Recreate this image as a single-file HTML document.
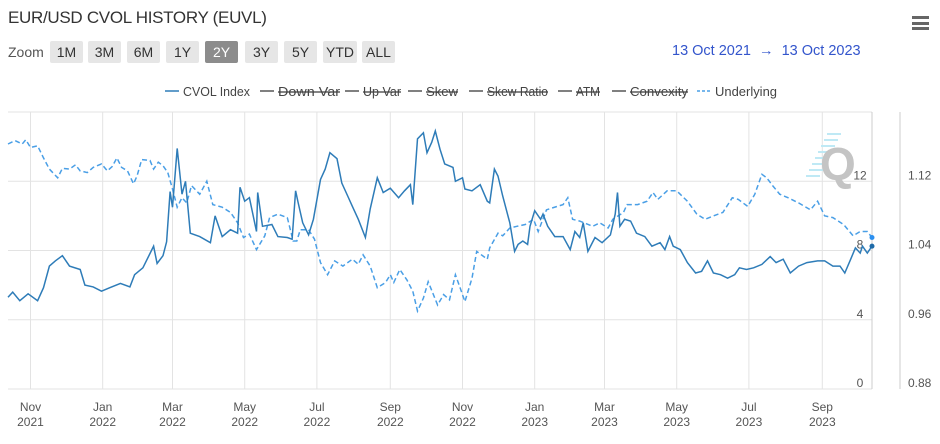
<!DOCTYPE html>
<html><head><meta charset="utf-8">
<style>
body{margin:0;background:#fff;font-family:"Liberation Sans",sans-serif;}
#wrap{position:relative;width:940px;height:444px;overflow:hidden;}
.title{position:absolute;left:8px;top:8px;font-size:17px;color:#333;letter-spacing:-0.3px;}
.zoomlbl{position:absolute;left:8px;top:44px;font-size:14px;color:#555;}
.btn{position:absolute;top:41px;height:22px;width:33px;background:#e6e6e6;color:#333;font-size:14px;text-align:center;line-height:22px;border-radius:2px;}
.btn.sel{background:#8c8c8c;color:#fff;}
.range{position:absolute;left:672px;top:43px;font-size:14.5px;color:#3355cc;}
.menu{position:absolute;left:912px;top:16px;width:17px;}
.menu div{height:3px;background:#666;margin-bottom:2.5px;}
</style></head><body>
<div id="wrap">
<div class="title">EUR/USD CVOL HISTORY (EUVL)</div>
<div class="menu"><div></div><div></div><div></div></div>
<div class="zoomlbl">Zoom</div>
<div class="btn" style="left:50px">1M</div>
<div class="btn" style="left:88px">3M</div>
<div class="btn" style="left:127px">6M</div>
<div class="btn" style="left:166px">1Y</div>
<div class="btn sel" style="left:205px">2Y</div>
<div class="btn" style="left:245px">3Y</div>
<div class="btn" style="left:284px">5Y</div>
<div class="btn" style="left:323px;width:34px">YTD</div>
<div class="btn" style="left:362px">ALL</div>
<div class="range">13 Oct 2021 &nbsp;→ &nbsp;13 Oct 2023</div>
<svg id="chart" width="940" height="444" style="position:absolute;left:0;top:0"></svg>
</div>
<script>
const cvolDays=[0,4,10,17,25,30,35,40,46,52,61,65,72,79,86,95,103,107,114,123,126,131,134,137,139,143,147,150,154,162,171,175,181,188,194,196,200,204,210,211,215,223,228,236,240,243,245,249,254,258,264,268,272,278,282,287,291,296,302,306,312,317,323,330,335,340,342,346,351,354,358,361,365,369,376,378,384,386,392,399,405,407,411,414,418,424,428,431,435,439,441,445,450,452,456,462,469,475,479,483,486,490,496,502,509,513,515,517,521,526,531,538,544,551,555,559,562,568,574,581,586,591,596,602,608,614,618,624,630,637,644,649,655,661,668,675,684,690,697,703,707,712,716,720,722,726,730];
const cvolVals=[5.3,5.6,5.1,5.5,5.1,5.85,7.1,7.4,7.7,7.1,6.9,6.0,5.9,5.65,5.85,6.1,5.9,6.6,7.0,8.25,7.25,7.7,8.5,11.4,10.5,13.9,11.25,12.0,9.0,8.8,8.45,10.0,8.8,9.2,9.0,11.65,10.85,11.05,9.1,11.35,9.4,9.5,8.8,8.75,8.65,11.45,10.8,9.6,8.9,9.8,12.1,12.7,13.65,13.3,11.9,11.15,10.55,9.8,8.75,10.4,12.2,11.35,11.6,11.05,11.45,11.8,10.65,14.45,14.8,13.65,14.25,14.9,13.85,13.0,12.8,12.0,12.2,11.55,11.45,11.8,10.85,10.75,12.7,12.3,11.15,9.6,7.95,8.35,8.55,8.35,9.4,10.3,9.8,10.1,9.4,8.8,8.8,8.05,9.1,8.75,9.6,7.95,8.75,8.45,8.9,10.1,11.35,9.4,9.8,9.7,9.0,8.8,8.25,8.45,8.05,8.8,8.25,8.05,7.3,6.7,6.8,7.4,6.7,6.6,6.4,6.6,7.0,6.9,7.0,7.2,7.65,7.3,7.5,6.7,7.1,7.3,7.4,7.4,7.1,7.1,6.7,7.5,8.15,7.85,8.25,7.85,8.25];
const undDays=[0,6,12,15,19,25,30,35,42,46,52,57,61,67,72,79,84,88,92,96,101,106,109,113,120,123,127,131,135,139,143,147,151,155,162,168,173,181,188,194,199,204,210,217,221,228,236,241,244,247,254,259,264,270,276,283,291,296,300,306,312,319,323,326,331,337,342,346,351,355,363,368,373,378,382,386,392,396,405,407,414,418,424,430,437,444,448,455,464,469,473,477,483,494,500,507,511,520,523,532,540,545,549,557,565,574,582,589,596,604,612,617,625,631,637,641,646,652,659,668,678,684,690,697,706,714,720,726,730];
const undVals=[1.163,1.167,1.163,1.168,1.159,1.161,1.147,1.134,1.124,1.135,1.134,1.139,1.132,1.130,1.136,1.140,1.132,1.137,1.147,1.136,1.132,1.117,1.126,1.145,1.144,1.134,1.142,1.138,1.130,1.111,1.090,1.101,1.095,1.115,1.105,1.120,1.093,1.090,1.084,1.072,1.055,1.059,1.041,1.057,1.078,1.082,1.078,1.051,1.051,1.064,1.064,1.053,1.026,1.012,1.028,1.022,1.030,1.024,1.035,1.022,0.997,1.003,1.012,1.003,1.018,1.006,0.993,0.970,0.985,1.004,0.977,0.989,0.983,1.012,0.997,0.981,1.008,1.039,1.030,1.043,1.060,1.057,1.066,1.068,1.070,1.076,1.062,1.087,1.091,1.093,1.101,1.076,1.074,1.068,1.072,1.066,1.076,1.084,1.093,1.093,1.097,1.107,1.099,1.109,1.109,1.097,1.082,1.076,1.080,1.084,1.101,1.099,1.091,1.105,1.128,1.124,1.115,1.105,1.101,1.095,1.087,1.097,1.080,1.078,1.070,1.057,1.062,1.062,1.055];
const leftTicks=[0,4,8,12];
const rightTicks=["0.88","0.96","1.04","1.12"];
const monthLabels=["Nov","Jan","Mar","May","Jul","Sep","Nov","Jan","Mar","May","Jul","Sep"];
const yearLabels=["2021","2022","2022","2022","2022","2022","2022","2023","2023","2023","2023","2023"];
const monthDays=[19,80,139,200,261,323,384,445,504,565,626,688];

const X0=8,X1=872,Y0=389,Y1=112;
const xS=d=>X0+d*(X1-X0)/730;
const yL=v=>Y0-(v/16)*(Y0-Y1);
const yR=v=>Y0-((v-0.88)/0.32)*(Y0-Y1);
const svg=document.getElementById('chart');
const NS='http://www.w3.org/2000/svg';
function mk(t,a){const e=document.createElementNS(NS,t);for(const k in a)e.setAttribute(k,a[k]);svg.appendChild(e);return e;}
for(let i=0;i<=4;i++){const y=yL(i*4);const g=mk('line',{x1:X0,x2:X1,y1:y,y2:y,stroke:'#e3e3e3','stroke-width':1});

}
monthDays.forEach((d,i)=>{const x=xS(d);const g=mk('line',{x1:x,x2:x,y1:Y1,y2:Y0,stroke:'#e3e3e3','stroke-width':1});


const t1=mk('text',{x:x,y:411,'text-anchor':'middle','font-size':12,fill:'#555','font-family':'Liberation Sans, sans-serif'});t1.textContent=monthLabels[i];


const t2=mk('text',{x:x,y:426,'text-anchor':'middle','font-size':12,fill:'#555','font-family':'Liberation Sans, sans-serif'});t2.textContent=yearLabels[i];

});
let a=mk('line',{x1:X1,x2:X1,y1:Y1,y2:Y0,stroke:'#ccc'});


a=mk('line',{x1:900,x2:900,y1:Y1,y2:Y0,stroke:'#ccc'});


leftTicks.forEach(v=>{const t=mk('text',{x:860,y:yL(v)-2,'text-anchor':'middle','font-size':12,fill:'#555','font-family':'Liberation Sans, sans-serif'});t.textContent=v;

});
rightTicks.forEach(v=>{const t=mk('text',{x:908,y:yR(parseFloat(v))-2,'font-size':12,fill:'#555','font-family':'Liberation Sans, sans-serif'});t.textContent=v;

});
for(let i=0;i<8;i++){const w=mk('line',{x1:806+i*3,x2:820+i*3,y1:176-i*6,y2:176-i*6,stroke:'#bfe9f5','stroke-width':2});

}
const q=mk('text',{x:820,y:180,'font-size':46,'font-weight':'bold',fill:'#c4c4c4','font-family':'Liberation Sans, sans-serif'});q.textContent='Q';


const up=undDays.map((d,i)=>xS(d).toFixed(1)+','+yR(undVals[i]).toFixed(1)).join(' ');
const ul=mk('polyline',{points:up,fill:'none',stroke:'#4a9fe6','stroke-width':1.5,'stroke-dasharray':'5,3'});


const cp=cvolDays.map((d,i)=>xS(d).toFixed(1)+','+yL(cvolVals[i]).toFixed(1)).join(' ');
const cl=mk('polyline',{points:cp,fill:'none',stroke:'#2e7cb8','stroke-width':1.5});


let m=mk('circle',{cx:xS(undDays[undDays.length-1]),cy:yR(undVals[undVals.length-1]),r:2.5,fill:'#2b8ff0'});


m=mk('circle',{cx:xS(cvolDays[cvolDays.length-1]),cy:yL(cvolVals[cvolVals.length-1]),r:2.5,fill:'#1e6aa8'});


const legend=[["CVOL Index",165,67,'#2e7cb8',false,false],["Down Var",260,62,'#555',true,false],["Up Var",345,38,'#555',true,false],["Skew",408,32,'#555',true,false],["Skew Ratio",469,61,'#555',true,false],["ATM",558,24,'#555',true,false],["Convexity",612,58,'#555',true,false],["Underlying",697,62,'#4a9fe6',false,true]];
legend.forEach(l=>{const ln=mk('line',{x1:l[1],x2:l[1]+14,y1:91,y2:91,stroke:l[3],'stroke-width':1.5});
if(l[5])ln.setAttribute('stroke-dasharray','3,2');


const t=mk('text',{x:l[1]+18,y:96,'font-size':13,fill:'#444','font-family':'Liberation Sans, sans-serif',textLength:l[2],lengthAdjust:'spacingAndGlyphs'});t.textContent=l[0];
if(l[4])t.setAttribute('text-decoration','line-through');

});
</script>
</body></html>
